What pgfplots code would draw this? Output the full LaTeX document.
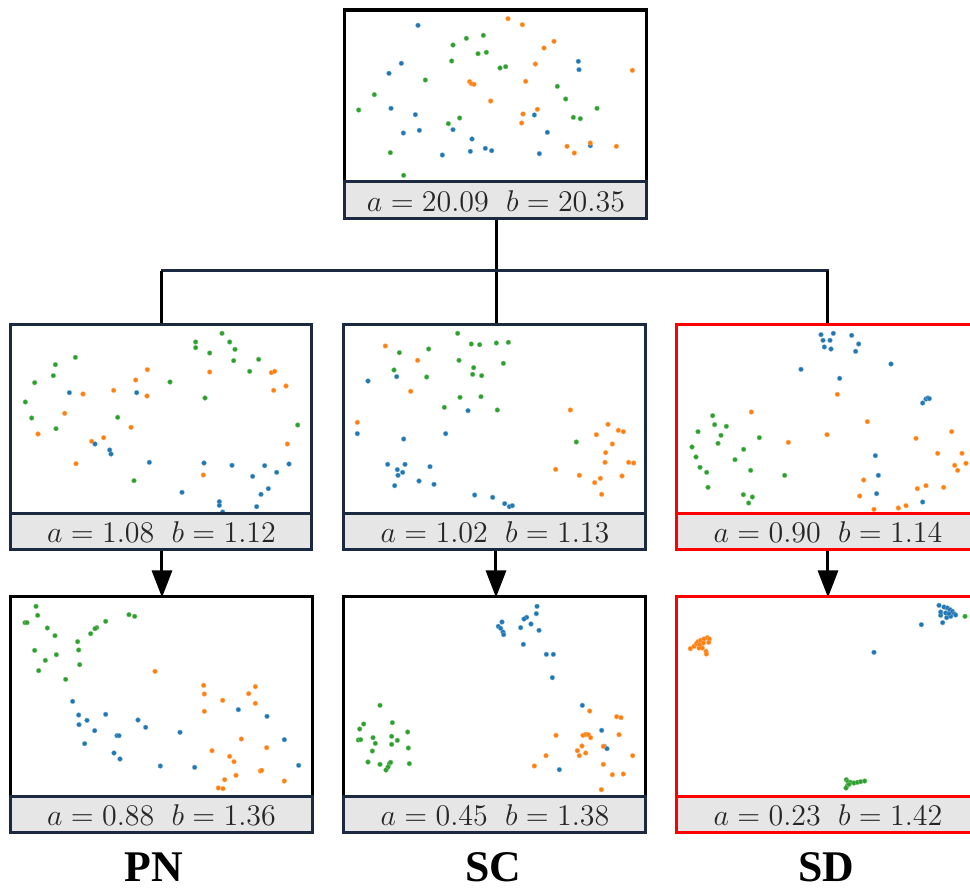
\documentclass[border=0pt]{standalone}
\usepackage{pgfplots}
\pgfplotsset{compat=1.18}
\usepackage{fontspec}
\newfontfamily\tnr{Liberation Serif}
\usetikzlibrary{arrows.meta}
\definecolor{cb}{HTML}{1F77B4}
\definecolor{co}{HTML}{FF7F0E}
\definecolor{cg}{HTML}{2CA02C}
\definecolor{navy}{HTML}{1B2A41}
\definecolor{lbl}{HTML}{E6E6E6}
\definecolor{rd}{HTML}{FF0000}
\pgfplotsset{
  panel/.style={scale only axis, hide axis, y dir=reverse, clip=true, anchor=north west, width=120.8pt},
  B/.style={only marks, mark=*, mark size=0.95pt, color=cb, mark options={fill=cb, draw=cb!60!white, line width=0.15pt}},
  O/.style={only marks, mark=*, mark size=0.95pt, color=co, mark options={fill=co, draw=co!60!white, line width=0.15pt}},
  G/.style={only marks, mark=*, mark size=0.95pt, color=cg, mark options={fill=cg, draw=cg!60!white, line width=0.15pt}},
}
\begin{document}
\begin{tikzpicture}
\path[use as bounding box] (0,0) rectangle (388pt,-356pt);
\clip (0,0) rectangle (388pt,-356pt);
\begin{scope}[x=0.4pt,y=-0.4pt]
\coordinate (P1) at (345,10);
\coordinate (P2) at (11,325);
\coordinate (P3) at (344,325);
\coordinate (P4) at (677,325);
\coordinate (P5) at (11,597);
\coordinate (P6) at (344,597);
\coordinate (P7) at (677,597);
\end{scope}

% ---------- top panel ----------
\begin{axis}[panel, at={(P1)}, height=68.8pt, xmin=6, xmax=912, ymin=6, ymax=522]
\addplot[B] coordinates {(225,52) (175,166) (138,196) (144,301) (217,320) (181,375) (229,367) (330,365) (387,393) (298,441) (382,430) (427,421) (446,428) (574,321) (613,373) (589,437) (706,160) (708,185) (742,413)};
\addplot[O] coordinates {(495,32) (538,50) (633,100) (603,120) (577,168) (548,220) (380,221) (385,227) (393,229) (443,279) (583,304) (540,318) (536,345) (672,415) (694,435) (742,405) (820,415) (868,187)};
\addplot[G] coordinates {(47,306) (94,260) (142,434) (182,502) (247,216) (326,159) (330,111) (370,91) (421,82) (405,137) (430,133) (471,180) (488,176) (316,347) (350,330) (643,235) (668,273) (762,301) (691,328) (712,332)};
\end{axis}

% ---------- row 2 left ----------
\begin{axis}[panel, at={(P2)}, width=120.4pt, height=75.6pt, xmin=9, xmax=912, ymin=15, ymax=582]
\addplot[G] coordinates {(642,40) (563,66) (563,83) (665,66) (681,88) (605,99) (677,122) (752,118) (725,154) (591,234) (486,186) (202,112) (142,134) (136,167) (80,188) (52,246) (71,294) (144,326) (329,292) (378,482) (869,315)};
\addplot[O] coordinates {(418,149) (383,180) (317,211) (417,228) (225,222) (170,280) (90,342) (369,322) (287,353) (251,364) (204,431) (605,156) (790,158) (800,154) (797,211) (834,198) (838,372) (586,465)};
\addplot[B] coordinates {(184,218) (386,218) (261,372) (305,390) (309,402) (424,427) (522,517) (588,429) (672,436) (770,437) (734,469) (806,457) (843,432) (781,506) (759,523) (634,545) (634,556) (644,576) (746,560)};
\end{axis}

% ---------- row 2 middle ----------
\begin{axis}[panel, at={(P3)}, height=75.6pt, xmin=12, xmax=918, ymin=15, ymax=582]
\addplot[G] coordinates {(353,40) (394,72) (419,74) (469,69) (505,67) (178,98) (266,87) (357,121) (490,130) (401,143) (162,150) (260,171) (398,163) (425,167) (360,232) (423,230) (313,262) (472,270) (709,366)};
\addplot[O] coordinates {(136,78) (233,121) (212,214) (52,307) (691,270) (804,313) (835,331) (850,335) (769,344) (817,372) (797,398) (795,427) (866,427) (881,429) (647,448) (718,466) (781,475) (764,488) (846,468) (785,523)};
\addplot[B] coordinates {(84,183) (170,170) (384,272) (52,341) (191,357) (317,341) (143,433) (195,433) (172,449) (188,457) (174,466) (270,440) (237,483) (282,493) (164,497) (404,525) (458,532) (494,551) (508,560) (517,557)};
\end{axis}

% ---------- row 2 right ----------
\begin{axis}[panel, at={(P4)}, height=75.6pt, xmin=9, xmax=915, ymin=15, ymax=582]
\addplot[B] coordinates {(441,44) (478,40) (447,61) (468,61) (451,81) (471,87) (533,46) (554,72) (545,94) (651,132) (381,148) (497,175) (746,249) (756,237) (762,234) (766,236) (604,407) (613,466) (608,521) (746,546)};
\addplot[O] coordinates {(490,223) (232,276) (580,305) (459,344) (343,367) (726,355) (833,335) (791,400) (864,400) (842,436) (876,430) (851,451) (569,480) (557,528) (600,568) (673,564) (696,557) (730,506) (756,497) (809,502)};
\addplot[G] coordinates {(116,287) (122,314) (157,319) (72,335) (141,346) (132,370) (256,353) (54,381) (209,388) (66,411) (183,419) (78,442) (98,457) (230,451) (332,466) (102,502) (208,524) (235,531) (224,549) (343,584)};
\end{axis}

% ---------- row 3 left ----------
\begin{axis}[panel, at={(P5)}, height=80pt, xmin=9, xmax=915, ymin=12, ymax=612]
\addplot[G] coordinates {(84,40) (89,67) (51,89) (57,89) (118,105) (141,128) (293,85) (363,65) (380,70) (266,104) (261,107) (248,122) (209,146) (212,171) (215,215) (145,185) (112,202) (80,172) (92,233) (173,259)};
\addplot[B] coordinates {(194,325) (212,366) (237,382) (213,395) (293,364) (390,381) (413,403) (260,413) (327,428) (333,428) (230,452) (318,480) (336,498) (457,519) (516,418) (560,523) (691,350) (777,370) (829,440) (872,517)};
\addplot[O] coordinates {(441,235) (587,277) (589,303) (589,355) (644,322) (722,302) (742,281) (742,331) (700,438) (776,464) (612,473) (665,490) (678,506) (684,547) (650,560) (631,585) (645,587) (757,534) (761,532) (829,564)};
\end{axis}

% ---------- row 3 middle ----------
\begin{axis}[panel, at={(P6)}, height=80pt, xmin=12, xmax=918, ymin=12, ymax=612]
\addplot[B] coordinates {(591,40) (589,62) (486,87) (475,100) (482,106) (489,117) (491,125) (560,73) (552,78) (542,104) (573,93) (597,112) (550,154) (619,184) (640,184) (637,254) (727,337) (785,412) (793,460) (801,467) (658,530)};
\addplot[O] coordinates {(749,354) (830,371) (843,374) (837,425) (648,427) (729,427) (738,424) (745,425) (752,434) (790,460) (712,473) (726,459) (737,480) (718,488) (618,488) (878,488) (583,519) (790,514) (817,545) (850,543) (784,590)};
\addplot[G] coordinates {(120,337) (71,393) (59,408) (157,389) (203,417) (55,441) (62,440) (99,434) (106,451) (155,430) (172,442) (155,454) (205,465) (97,474) (84,507) (120,514) (148,512) (152,508) (144,522) (138,531) (208,512)};
\end{axis}

% ---------- row 3 right ----------
\begin{axis}[panel, at={(P7)}, height=80pt, xmin=9, xmax=915, ymin=12, ymax=612]
\addplot[O] coordinates {(49,167) (60,160) (67,152) (72,146) (80,142) (90,138) (100,134) (106,138) (104,148) (85,165) (75,165) (96,175) (97,183) (78,155) (88,150)};
\addplot[B] coordinates {(795,37) (810,42) (820,45) (828,50) (835,55) (840,62) (845,66) (830,70) (818,74) (800,67) (800,57) (815,60) (825,62) (806,89) (742,95) (600,178)};
\addplot[G] coordinates {(517,560) (522,566) (530,568) (540,570) (550,568) (560,566) (572,564) (520,578) (516,585) (525,574) (873,70)};
\end{axis}

\begin{scope}[x=0.4pt,y=-0.4pt, line width=1.2pt]
% connectors
\draw[black] (497,219) -- (497,325);
\draw[navy] (161,271) -- (829,271);
\draw[black] (162,271) -- (162,325);
\draw[black] (828,271) -- (828,325);
\foreach \xx in {162,496,828}
  \draw[black, -{Triangle[length=10.8pt,width=8pt]}] (\xx,550) -- (\xx,597.5);
% frames
\draw[black] (345,10) rectangle (647,182);
\draw[navy, fill=lbl] (345,182) rectangle (647,219);
\draw[navy] (11,325) rectangle (312,514);
\draw[navy, fill=lbl] (11,514) rectangle (312,550);
\draw[navy] (344,325) rectangle (646,514);
\draw[navy, fill=lbl] (344,514) rectangle (646,550);
\draw[rd] (677,325) rectangle (979,514);
\draw[rd, fill=lbl] (677,514) rectangle (979,550);
\draw[black] (11,597) rectangle (313,797);
\draw[navy, fill=lbl] (11,797) rectangle (313,833);
\draw[black] (344,597) rectangle (646,797);
\draw[navy, fill=lbl] (344,797) rectangle (646,833);
\draw[rd] (677,597) rectangle (979,797);
\draw[rd, fill=lbl] (677,797) rectangle (979,833);
% label texts
\tikzset{lab/.style={text=black!85, inner sep=0pt, font=\fontsize{11.5}{13}\selectfont}}
\node[lab] at (496,201) {$a = 20.09\hspace{0.6em} b = 20.35$};
\node[lab] at (161.5,532.5) {$a = 1.08\hspace{0.6em} b = 1.12$};
\node[lab] at (495,532.5) {$a = 1.02\hspace{0.6em} b = 1.13$};
\node[lab] at (828,532.5) {$a = 0.90\hspace{0.6em} b = 1.14$};
\node[lab] at (161.5,815.5) {$a = 0.88\hspace{0.6em} b = 1.36$};
\node[lab] at (495,815.5) {$a = 0.45\hspace{0.6em} b = 1.38$};
\node[lab] at (828,815.5) {$a = 0.23\hspace{0.6em} b = 1.42$};
% bottom names
\tikzset{nm/.style={anchor=base, inner sep=0pt, font=\tnr\bfseries\fontsize{17.5}{20}\selectfont}}
\node[nm] at (153.5,882) {PN};
\node[nm] at (493,882) {SC};
\node[nm] at (826.5,882) {SD};
\end{scope}
\end{tikzpicture}
\end{document}
